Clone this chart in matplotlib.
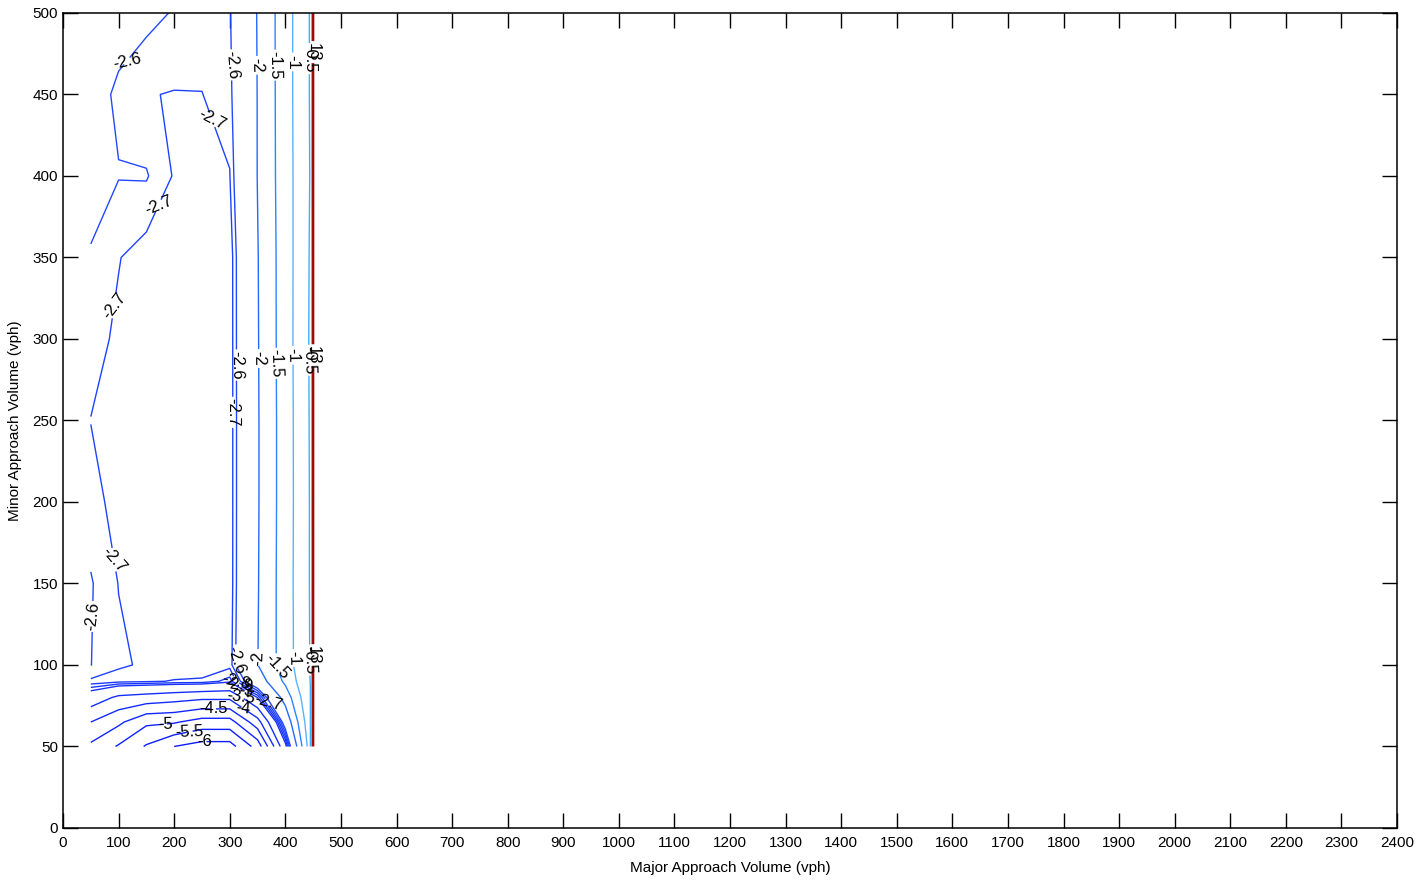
import numpy as np
import matplotlib.pyplot as plt

plt.rcParams['font.family'] = ['Liberation Sans', 'DejaVu Sans']

# grid of the contour data
major_vph = [50, 100, 150, 200, 250, 300, 350, 400, 445, 450]
minor_vph = [50, 65, 80, 90, 100, 150, 200, 250, 300, 350, 400, 450, 500]

# change in delay, one row per minor approach volume (x = major_vph)
delay_change = [
    [-4.6, -5.05, -5.55, -6.0, -6.2, -6.2, -5.3, -3.1, -0.7, 14],          # 50
    [-4.0, -4.4, -4.9, -4.95, -5.2, -5.2, -4.2, -2.4, -0.6, 14],           # 65
    [-3.2, -3.6, -3.7, -3.8, -3.9, -3.9, -3.0, -1.8, -0.52, 14],           # 80
    [-2.72, -2.76, -2.78, -2.81, -2.82, -2.95, -2.3, -1.4, -0.49, 14],     # 90
    [-2.598, -2.68, -2.72, -2.71, -2.72, -2.76, -2.01, -1.25, -0.48, 14],  # 100
    [-2.59, -2.703, -2.75, -2.75, -2.75, -2.78, -2.03, -1.24, -0.47, 14],  # 150
    [-2.66, -2.74, -2.76, -2.76, -2.76, -2.78, -2.04, -1.25, -0.47, 14],   # 200
    [-2.702, -2.73, -2.76, -2.76, -2.76, -2.78, -2.04, -1.25, -0.46, 14],  # 250
    [-2.66, -2.72, -2.76, -2.76, -2.76, -2.78, -2.03, -1.24, -0.45, 14],   # 300
    [-2.61, -2.695, -2.75, -2.74, -2.75, -2.78, -2.02, -1.24, -0.46, 14],  # 350
    [-2.55, -2.595, -2.59, -2.71, -2.74, -2.705, -1.99, -1.23, -0.48, 14], # 400
    [-2.55, -2.62, -2.695, -2.705, -2.702, -2.65, -1.99, -1.22, -0.47, 14],# 450
    [-2.55, -2.55, -2.56, -2.61, -2.65, -2.62, -1.98, -1.22, -0.47, 14],   # 500
]

levels = [-6, -5.5, -5, -4.5, -4, -3.5, -3, -2.9, -2.8, -2.7, -2.6, -2, -1.5, -1, -0.5, 13]

line_colors = ['#0c1cff', '#0c1cff', '#0e22ff', '#1026ff', '#122aff', '#142eff', '#1632ff',
               '#1836ff', '#1a3aff', '#1e42ff', '#2248ff', '#2468ff', '#2c84ff', '#5ab2ff',
               '#3cb0ff', '#a00a0a']
line_widths = [1.0] * 15 + [2.0]

X, Y = np.meshgrid(major_vph, minor_vph)
Z = np.array(delay_change)

fig = plt.figure(figsize=(14.16, 8.83), dpi=100)
ax = fig.add_axes([0.0445, 0.0623, 0.9421, 0.923])

cs = ax.contour(X, Y, Z, levels=levels, colors=line_colors, linewidths=line_widths)

# label spots, roughly where the original put them
label_spots = [
    (302, 468), (351, 468), (381, 468), (412, 470), (444, 472), (449.7, 476),
    (312, 284), (305, 255), (351, 288), (382, 285), (413, 290), (444, 287), (449.7, 290),
    (311, 103), (351, 104), (385, 100), (414, 104), (444, 103), (449.7, 106),
    (115, 470), (268, 433), (172, 380), (92, 320), (52, 130), (92, 165),
    (270, 73), (184, 64), (228, 59), (255, 53), (369, 77), (330, 84),
    (312, 92), (316, 88), (320, 80), (324, 74),
]
ax.clabel(cs, fmt='%g', fontsize=12, colors='k', inline=True, inline_spacing=3,
          manual=label_spots)

ax.set_xlim(0, 2400)
ax.set_ylim(0, 500)
ax.set_xticks(np.arange(0, 2401, 100))
ax.set_yticks(np.arange(0, 501, 50))
ax.tick_params(direction='in', length=11, width=1, top=True, right=True, labelsize=11)
ax.tick_params(axis='x', pad=6)
for s in ax.spines.values():
    s.set_linewidth(1.1)

ax.set_xlabel('Major Approach Volume (vph)', fontsize=11, labelpad=8)
ax.set_ylabel('Minor Approach Volume (vph)', fontsize=11, labelpad=8)

fig.savefig('out.png', dpi=100)
